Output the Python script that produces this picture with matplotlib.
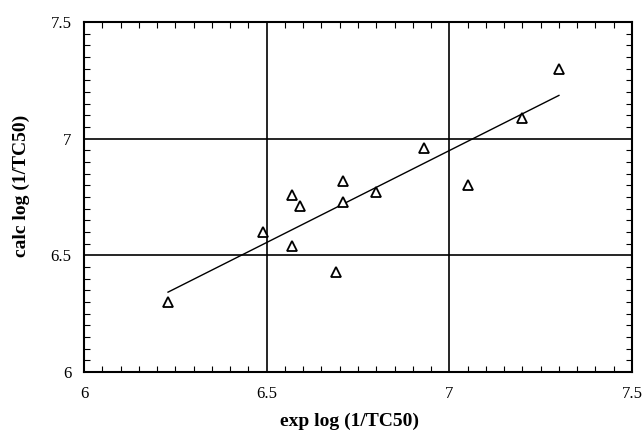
import numpy as np
import matplotlib
matplotlib.use("Agg")
import matplotlib.pyplot as plt
from matplotlib.ticker import MultipleLocator, FormatStrFormatter

# experimental vs calculated log(1/TC50)
exp_vals = [6.23, 6.49, 6.57, 6.57, 6.59, 6.69, 6.71, 6.71, 6.80, 6.93, 7.05, 7.20, 7.30]
calc_vals = [6.30, 6.60, 6.54, 6.76, 6.71, 6.43, 6.82, 6.73, 6.77, 6.96, 6.80, 7.09, 7.30]

# regression line as drawn (slope, intercept)
fit_slope = 0.788
fit_intercept = 1.433

x_ticks = [6, 6.5, 7, 7.5]
y_ticks = [6, 6.5, 7, 7.5]

plt.rcParams["font.family"] = ["Liberation Serif", "DejaVu Serif"]

fig = plt.figure(figsize=(6.43, 4.38), dpi=100)
ax = fig.add_axes([84/643, 1 - 372/438, 548/643, 350/438])

x = np.asarray(exp_vals)
y = np.asarray(calc_vals)

xs = np.array([x.min(), x.max()])
ax.plot(xs, fit_slope*xs + fit_intercept, color="black", lw=1.0, zorder=3)
ax.plot(x, y, linestyle="none", marker="^", markersize=7, markerfacecolor="white",
        markeredgecolor="black", markeredgewidth=1.3, zorder=4)

ax.set_xlim(6, 7.5)
ax.set_ylim(6, 7.5)
ax.set_xticks(x_ticks)
ax.set_yticks(y_ticks)
ax.xaxis.set_major_formatter(FormatStrFormatter("%g"))
ax.yaxis.set_major_formatter(FormatStrFormatter("%g"))
ax.xaxis.set_minor_locator(MultipleLocator(0.05))
ax.yaxis.set_minor_locator(MultipleLocator(0.05))

ax.grid(True, which="major", color="black", lw=1.2)
ax.tick_params(which="major", direction="in", length=0, labelsize=12)
ax.tick_params(axis="x", which="major", pad=10)
ax.tick_params(axis="y", which="major", pad=9)
ax.tick_params(which="minor", direction="in", length=4, width=0.8,
               top=True, right=True)
for s in ax.spines.values():
    s.set_linewidth(1.5)

ax.set_xlabel("exp log (1/TC50)", fontsize=14, fontweight="bold")
ax.set_ylabel("calc log (1/TC50)", fontsize=14, fontweight="bold")
ax.xaxis.set_label_coords(0.4836, -0.115)
ax.yaxis.set_label_coords(-0.099, 0.531)

fig.savefig("out.png", dpi=100)
